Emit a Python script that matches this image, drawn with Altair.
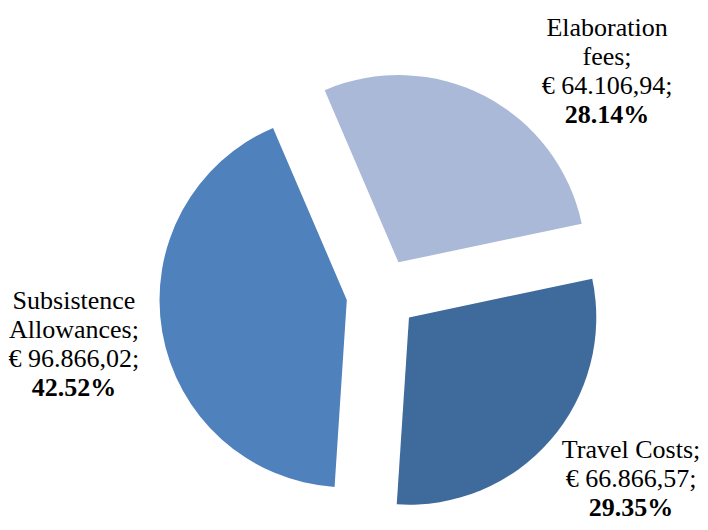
import math
import altair as alt
import pandas as pd

# ---------------- data ----------------
categories = ["Elaboration fees", "Travel Costs", "Subsistence Allowances"]
amounts = [64106.94, 66866.57, 96866.02]
label_lines = [["Elaboration", "fees;"], ["Travel Costs;"], ["Subsistence", "Allowances;"]]

# ---------------- style / layout ----------------
colors = ["#AAB9D7", "#3F6A9C", "#4F81BD"]
CX, CY = 374, 286          # pie centre (chart coords)
EXPLODE = 35.7             # explosion distance
R = 187.3                  # pie radius
START_DEG = -23.2          # first slice start angle (clockwise from 12 o'clock)
LH = 29                    # label line height
label_angle_deg = [41.1, 123.37, -92.8]
label_dist = [342.3, 298.2, 308.4]


def eur(v):
    s = f"{v:,.2f}".replace(",", "X").replace(".", ",").replace("X", ".")
    return f"€ {s};"


total = sum(amounts)
df = pd.DataFrame({
    "cat": categories,
    "amount": amounts,
    "order": list(range(len(categories))),
    "label": ["\n".join(lines + [eur(v)]) for lines, v in zip(label_lines, amounts)],
    "pct": [f"{v / total * 100:.2f}%" for v in amounts],
    "lang": [math.radians(a) for a in label_angle_deg],
    "ldist": label_dist,
})

base = (
    alt.Chart(df)
    .transform_joinaggregate(total="sum(amount)")
    .transform_window(cum="sum(amount)", sort=[alt.SortField("order")])
    .transform_calculate(
        t1=f"{math.radians(START_DEG)} + 2*PI*datum.cum/datum.total",
    )
    .transform_calculate(t0="datum.t1 - 2*PI*datum.amount/datum.total")
    .transform_calculate(mid="(datum.t0 + datum.t1)/2")
    .transform_calculate(
        cx=f"{CX} + {EXPLODE}*sin(datum.mid)",
        cy=f"{CY} - {EXPLODE}*cos(datum.mid)",
        lx=f"{CX} + datum.ldist*sin(datum.lang)",
        ly=f"{CY} - datum.ldist*cos(datum.lang)",
        nlines="length(split(datum.label, '\\n'))",
    )
    .transform_calculate(by=f"datum.ly + datum.nlines*{LH}")
)

arcs = base.mark_arc(outerRadius=R, innerRadius=0).encode(
    theta=alt.Theta("t0:Q", scale=None, stack=False),
    theta2="t1:Q",
    x=alt.X("cx:Q", scale=None, axis=None, stack=False),
    y=alt.Y("cy:Q", scale=None, axis=None, stack=False),
    color=alt.Color("cat:N", scale=alt.Scale(domain=categories, range=colors), legend=None),
)

txt_style = dict(font="Liberation Serif", fontSize=26, lineHeight=LH, align="center",
                 baseline="alphabetic", color="black")

texts = base.mark_text(lineBreak="\n", **txt_style).encode(
    x=alt.X("lx:Q", scale=None, axis=None),
    y=alt.Y("ly:Q", scale=None, axis=None),
    text="label:N",
)

bold = base.mark_text(fontWeight="bold", **txt_style).encode(
    x=alt.X("lx:Q", scale=None, axis=None),
    y=alt.Y("by:Q", scale=None, axis=None),
    text="pct:N",
)

chart = (
    alt.layer(arcs, texts, bold)
    .properties(width=692, height=514, padding=0, autosize="none")
    .configure_view(stroke=None)
)

chart.save("out.html", embed_options={"renderer": "svg", "actions": False})
